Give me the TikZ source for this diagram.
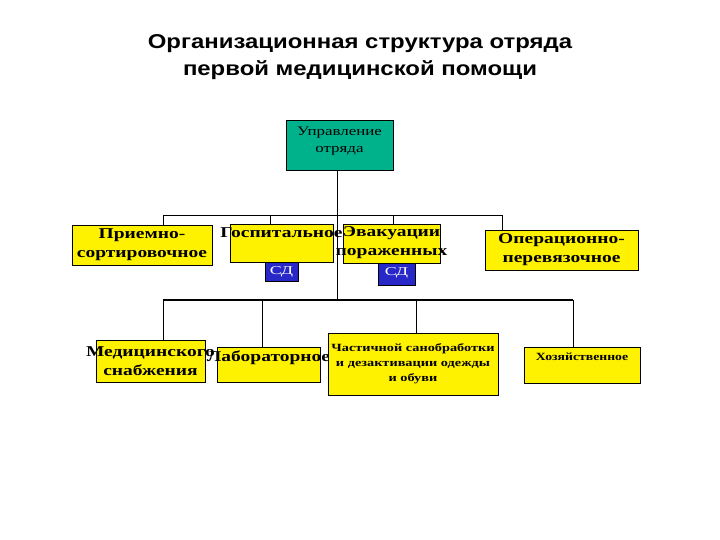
\documentclass[tikz,border=0pt]{standalone}
\usepackage{fontspec}
\setmainfont{Liberation Serif}
\newfontfamily\titlefont{Liberation Sans}
\definecolor{topc}{RGB}{0,178,140}
\definecolor{sdc}{RGB}{40,40,200}
\begin{document}
\begin{tikzpicture}[x=1pt,y=-1pt,
  yb/.style={draw=black,fill=yellow,line width=0.8pt},
  lbl/.style={align=center,inner sep=0pt,xscale=1.3,transform shape},
  big/.style={font=\bfseries\fontsize{15}{19}\selectfont},
  ln/.style={line width=0.8pt}]
\useasboundingbox (0,0) rectangle (720,540);
\node[lbl,xscale=0.92,font=\titlefont\bfseries\fontsize{20}{27}\selectfont] (title) at (360,57) {Организационная структура отряда\\первой медицинской помощи};
% top
\draw[fill=topc,draw=black,line width=0.8pt] (286,120) rectangle (393,170);
\node[lbl,font=\fontsize{13}{17}\selectfont] (top) at (339.5,141) {Управление\\отряда};
\coordinate (tb) at (337,170);
% row1 boxes
\draw[yb] (72,225) rectangle (212,265); \node[lbl,big] (b1) at (142,245) {Приемно-\\сортировочное};
\draw[yb] (230,224) rectangle (333,262); \node[lbl,big] (b2) at (281.5,233) {Госпитальное};
\draw[yb] (343,224) rectangle (440,263); \node[lbl,big] (b3) at (391.5,243) {Эвакуации\\пораженных};
\draw[yb] (485,230) rectangle (638,270); \node[lbl,big] (b4) at (561.5,250) {Операционно-\\перевязочное};
\draw[draw=black,fill=sdc] (265,262) rectangle (298,281); \node[lbl,xscale=1.15,text=white,font=\fontsize{12}{12}\selectfont] (sd1) at (281.5,272) {СД};
\draw[draw=black,fill=sdc] (378,263) rectangle (415,285); \node[lbl,xscale=1.15,text=white,font=\fontsize{12}{12}\selectfont] (sd2) at (396.5,273) {СД};
% row2 boxes
\draw[yb] (96,340) rectangle (205,382); \node[lbl,big] (c1) at (150.5,361) {Медицинского\\снабжения};
\draw[yb] (217,347) rectangle (320,382); \node[lbl,big] (c2) at (268.5,358) {Лабораторное};
\draw[yb] (328,333) rectangle (498,395); \node[lbl,font=\bfseries\fontsize{11}{15}\selectfont] (c3) at (413,364) {Частичной санобработки\\и дезактивации одежды\\и обуви};
\draw[yb] (524,347) rectangle (640,383); \node[lbl,xscale=0.96,font=\bfseries\fontsize{11}{13}\selectfont] (c4) at (582,357) {Хозяйственное};
% connectors
\coordinate (j1) at (337,300);
\draw[ln] (tb) -- (j1);
\draw[ln] (163,225) -- (163,215) -- (502,215) -- (502,231);
\draw[ln] (270,215) -- (270,224);
\draw[ln] (393,215) -- (393,224);
\draw[line width=1.3pt] (163,300) -- (573,300);
\draw[ln] (163,300) -- (163,340);
\draw[ln] (262,300) -- (262,347);
\draw[ln] (416,300) -- (416,333);
\draw[ln] (573,300) -- (573,347);
\end{tikzpicture}
\end{document}
